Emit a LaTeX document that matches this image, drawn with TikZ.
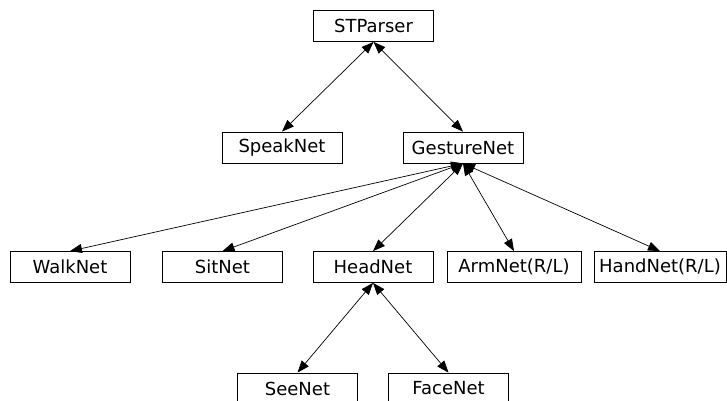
\documentclass[tikz,border=0pt]{standalone}
\usepackage{fontspec}
\setmainfont{DejaVu Sans}
\usepackage{tikz}
\usetikzlibrary{positioning}
\usetikzlibrary{arrows.meta}

\begin{document}
\begin{tikzpicture}[
    x=1pt, y=-1pt,
    every node/.style={font=\fontsize{18}{20}\selectfont},
    net node/.style={rectangle, draw, line width=0.8pt, minimum width=120pt, minimum height=31pt, inner sep=0pt},
    wide node/.style={net node, inner xsep=6pt},
    link/.style={{Triangle[length=12pt,width=9pt]}-{Triangle[length=12pt,width=9pt]}, line width=0.7pt}
]
\useasboundingbox (0,0) rectangle (727,400);
% Root node (parser)
\node[net node] (STParser) at (373.5,26) {STParser};
% Second level
\node[net node] (SpeakNet) at (282,147.5) {SpeakNet};
\node[net node] (GestureNet) at (463,147.5) {GestureNet};
% Gesture children
\node[net node] (WalkNet) at (70,267) {WalkNet};
\node[net node] (SitNet) at (222.5,267) {SitNet};
\node[net node] (HeadNet) at (373,267) {HeadNet};
\node[wide node, minimum width=134pt] (ArmNet) at (514,267) {ArmNet(R/L)};
\node[wide node, minimum width=132pt, inner xsep=3pt] (HandNet) at (660,267) {HandNet(R/L)};
% Head children
\node[net node] (SeeNet) at (297.5,388.5) {SeeNet};
\node[net node] (FaceNet) at (448.5,388.5) {FaceNet};
% Links
\draw[link] (STParser.south) -- (SpeakNet.north);
\draw[link] (STParser.south) -- (GestureNet.north);
\foreach \child in {WalkNet, SitNet, HeadNet, ArmNet, HandNet}
    \draw[link] (GestureNet.south) -- (\child.north);
\draw[link] (HeadNet.south) -- (SeeNet.north);
\draw[link] (HeadNet.south) -- (FaceNet.north);
\end{tikzpicture}
\end{document}
